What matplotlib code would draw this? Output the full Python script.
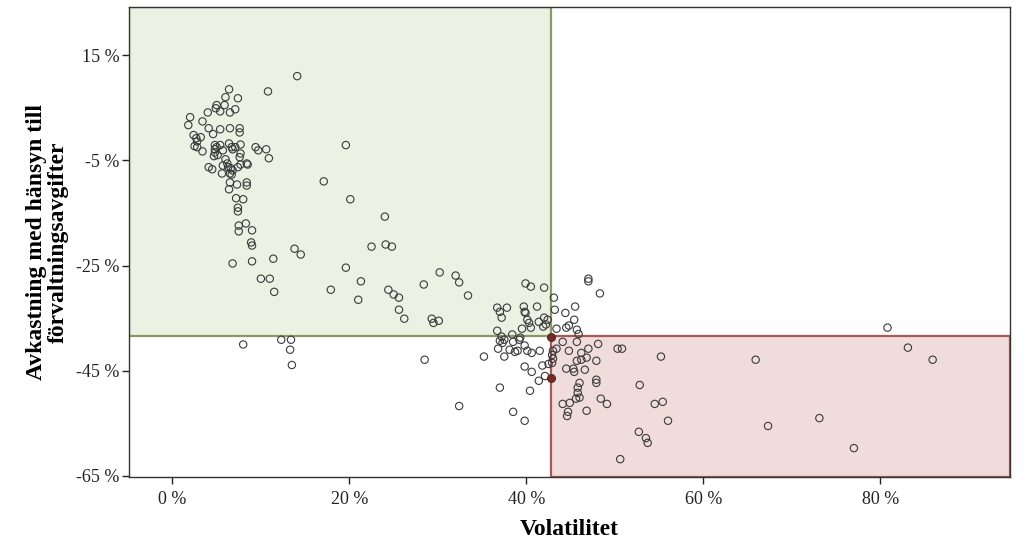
import matplotlib
matplotlib.use("Agg")
import matplotlib.pyplot as plt
from matplotlib.patches import Rectangle
from matplotlib.ticker import FuncFormatter

# Data (percent)
volatility = [
    6.4, 10.8, 14.1, 6.0, 7.4, 5.0, 4.9, 5.9, 4.0, 5.4, 6.5, 7.1, 2.0, 1.8, 3.4, 4.1, 5.4, 6.5, 7.6, 7.6,
    4.6, 2.4, 2.7, 2.8, 3.2, 2.5, 2.8, 3.4, 4.8, 5.0, 5.4, 4.8, 4.8, 5.7, 5.1, 4.7, 6.4, 6.7, 6.8, 7.1,
    7.7, 9.4, 9.7, 10.6, 6.0, 7.6, 7.7, 10.9, 4.1, 4.5, 5.6, 5.7, 6.2, 6.3, 6.6, 6.8, 6.5, 6.7, 7.4, 7.7,
    8.4, 8.5, 6.5, 7.3, 8.4, 8.4, 6.4, 7.2, 8.0, 7.4, 7.4, 7.5, 8.3, 7.5, 9.0, 8.9, 9.0, 6.8, 9.0, 11.4,
    10.0, 11.0, 11.5, 13.8, 14.5, 17.1, 20.1, 19.6, 22.5, 19.6, 21.3, 17.9, 21.0, 24.0, 24.1, 24.8, 24.4, 25.0, 25.6, 25.6,
    26.2, 28.4, 30.2, 32.0, 32.4, 33.4, 29.3, 29.5, 30.1, 39.9, 40.5, 42.0, 36.7, 37.0, 37.8, 37.2, 39.7, 39.8, 41.2, 36.7,
    40.1, 40.3, 40.5, 39.5, 41.4, 42.0, 41.9, 42.2, 39.9, 42.4, 8.0, 12.3, 13.4, 13.3, 13.5, 28.5, 35.2, 37.2, 37.5, 38.4,
    38.5, 39.2, 39.3, 37.0, 37.3, 39.8, 40.1, 40.6, 41.5, 38.1, 38.7, 39.0, 36.8, 37.5, 39.8, 40.6, 41.8, 42.5, 41.4, 42.1,
    37.0, 40.4, 32.4, 38.5, 39.8, 43.1, 43.2, 44.4, 45.5, 45.4, 44.8, 44.5, 45.7, 43.4, 45.9, 47.0, 47.0, 48.3, 80.8, 44.1,
    45.7, 48.1, 43.4, 44.8, 47.0, 50.3, 50.8, 46.2, 45.7, 46.2, 46.8, 47.9, 55.2, 65.9, 83.1, 85.9, 44.5, 45.3, 45.4, 46.6,
    46.0, 45.8, 45.8, 46.0, 45.6, 47.9, 47.9, 52.8, 48.4, 49.1, 44.1, 44.9, 44.7, 44.6, 46.8, 54.5, 55.4, 56.0, 52.7, 53.5,
    53.7, 50.6, 67.3, 73.1, 77.0, 43.0, 42.9, 43.0, 42.9,
]
returns = [
    8.5, 8.1, 11.0, 7.0, 6.8, 5.5, 4.9, 5.5, 4.1, 4.3, 4.1, 4.7, 3.2, 1.7, 2.4, 1.1, 0.9, 1.1, 1.1, 0.3,
    0.0, -0.2, -0.8, -1.4, -0.6, -2.3, -2.5, -3.3, -2.1, -2.5, -2.1, -2.9, -3.5, -3.1, -4.0, -4.2, -1.8, -2.5, -2.9, -2.5,
    -2.0, -2.5, -3.1, -2.9, -4.8, -4.4, -3.7, -4.6, -6.3, -6.7, -7.5, -6.0, -5.6, -6.3, -6.5, -6.9, -7.5, -7.7, -6.3, -5.8,
    -5.6, -5.8, -9.2, -9.6, -9.2, -9.8, -10.5, -12.2, -12.4, -14.0, -14.7, -17.4, -17.0, -18.5, -18.3, -20.6, -21.2, -24.6, -24.2, -23.7,
    -27.5, -27.5, -30.0, -21.8, -22.9, -9.0, -12.4, -2.1, -21.4, -25.4, -28.0, -29.6, -31.5, -15.7, -21.0, -21.4, -29.6, -30.5, -31.1, -33.4,
    -35.1, -28.6, -26.3, -26.9, -28.2, -30.7, -35.1, -35.9, -35.5, -28.4, -29.0, -29.2, -33.0, -33.8, -33.0, -34.9, -32.8, -33.8, -32.8, -37.4,
    -35.3, -35.9, -36.8, -37.0, -35.7, -34.9, -36.6, -36.2, -34.0, -35.3, -40.0, -39.1, -39.1, -41.0, -43.9, -42.9, -42.3, -38.5, -39.1, -38.1,
    -39.5, -39.1, -38.7, -39.3, -39.7, -40.2, -41.2, -41.6, -41.2, -41.0, -41.4, -41.2, -40.8, -42.3, -44.2, -45.2, -44.0, -43.7, -46.9, -46.0,
    -48.2, -48.8, -51.7, -52.8, -54.5, -31.1, -33.4, -34.0, -32.8, -35.3, -36.4, -36.8, -37.2, -37.0, -38.0, -27.5, -28.0, -30.3, -36.8, -39.5,
    -39.5, -39.9, -40.8, -41.2, -40.8, -40.8, -40.8, -41.6, -43.1, -42.9, -42.5, -43.1, -42.3, -42.9, -40.6, -42.9, -44.6, -44.6, -45.2, -44.8,
    -47.3, -48.2, -49.2, -50.1, -50.3, -46.7, -47.3, -47.7, -50.3, -51.3, -51.3, -51.1, -52.8, -53.6, -52.6, -51.3, -50.9, -54.5, -56.6, -57.8,
    -58.7, -61.8, -55.5, -54.0, -59.7, -41.2, -42.0, -42.7, -43.5,
]
# Highlighted (dark filled) points on the threshold line
hl_volatility = [42.8, 42.8]
hl_returns = [-38.5, -46.3]

# Thresholds (averages)
vol_threshold = 42.8
ret_threshold = -38.3

x_ticks = [0, 20, 40, 60, 80]
y_ticks = [15, -5, -25, -45, -65]
x_lim = (-4.9, 94.6)
y_lim = (-65.2, 24.1)

plt.rcParams['font.family'] = ['Liberation Serif', 'DejaVu Serif']

fig = plt.figure(figsize=(10.24, 5.56), dpi=100)
ax = fig.add_axes([0.126, 0.142, 0.860, 0.845])
ax.set_xlim(*x_lim)
ax.set_ylim(*y_lim)

# Quadrant boxes
ax.add_patch(Rectangle((x_lim[0], ret_threshold), vol_threshold - x_lim[0], y_lim[1] - ret_threshold,
                       facecolor='#edf1e4', edgecolor='#8a9a62', linewidth=1.6, zorder=1))
ax.add_patch(Rectangle((vol_threshold, y_lim[0]), x_lim[1] - vol_threshold, ret_threshold - y_lim[0],
                       facecolor='#f1dcdc', edgecolor='#a65a58', linewidth=1.6, zorder=1))

ax.scatter(volatility, returns, s=28, facecolors='none', edgecolors='#3a3a3a', linewidths=0.8, zorder=3)
ax.scatter(hl_volatility, hl_returns, s=32, facecolors='#7a2a22', edgecolors='#4a2a22', linewidths=0.8, zorder=4)

ax.set_xticks(x_ticks)
ax.set_yticks(y_ticks)
ax.xaxis.set_major_formatter(FuncFormatter(lambda v, p: f"{int(round(v))} %"))
ax.yaxis.set_major_formatter(FuncFormatter(lambda v, p: f"{int(round(v))} %"))
ax.tick_params(axis='both', direction='out', length=5, width=1, labelsize=13, colors='#222222')
ax.tick_params(axis='x', pad=5)
ax.tick_params(axis='y', pad=2)

for sp in ax.spines.values():
    sp.set_color('#333333')
    sp.set_linewidth(1.0)

ax.set_xlabel('Volatilitet', fontsize=17, fontweight='bold', labelpad=8)
ax.set_ylabel('Avkastning med hänsyn till\nförvaltningsavgifter', fontsize=17, fontweight='bold',
              labelpad=5, linespacing=1.05)

fig.savefig('out.png', dpi=100)
